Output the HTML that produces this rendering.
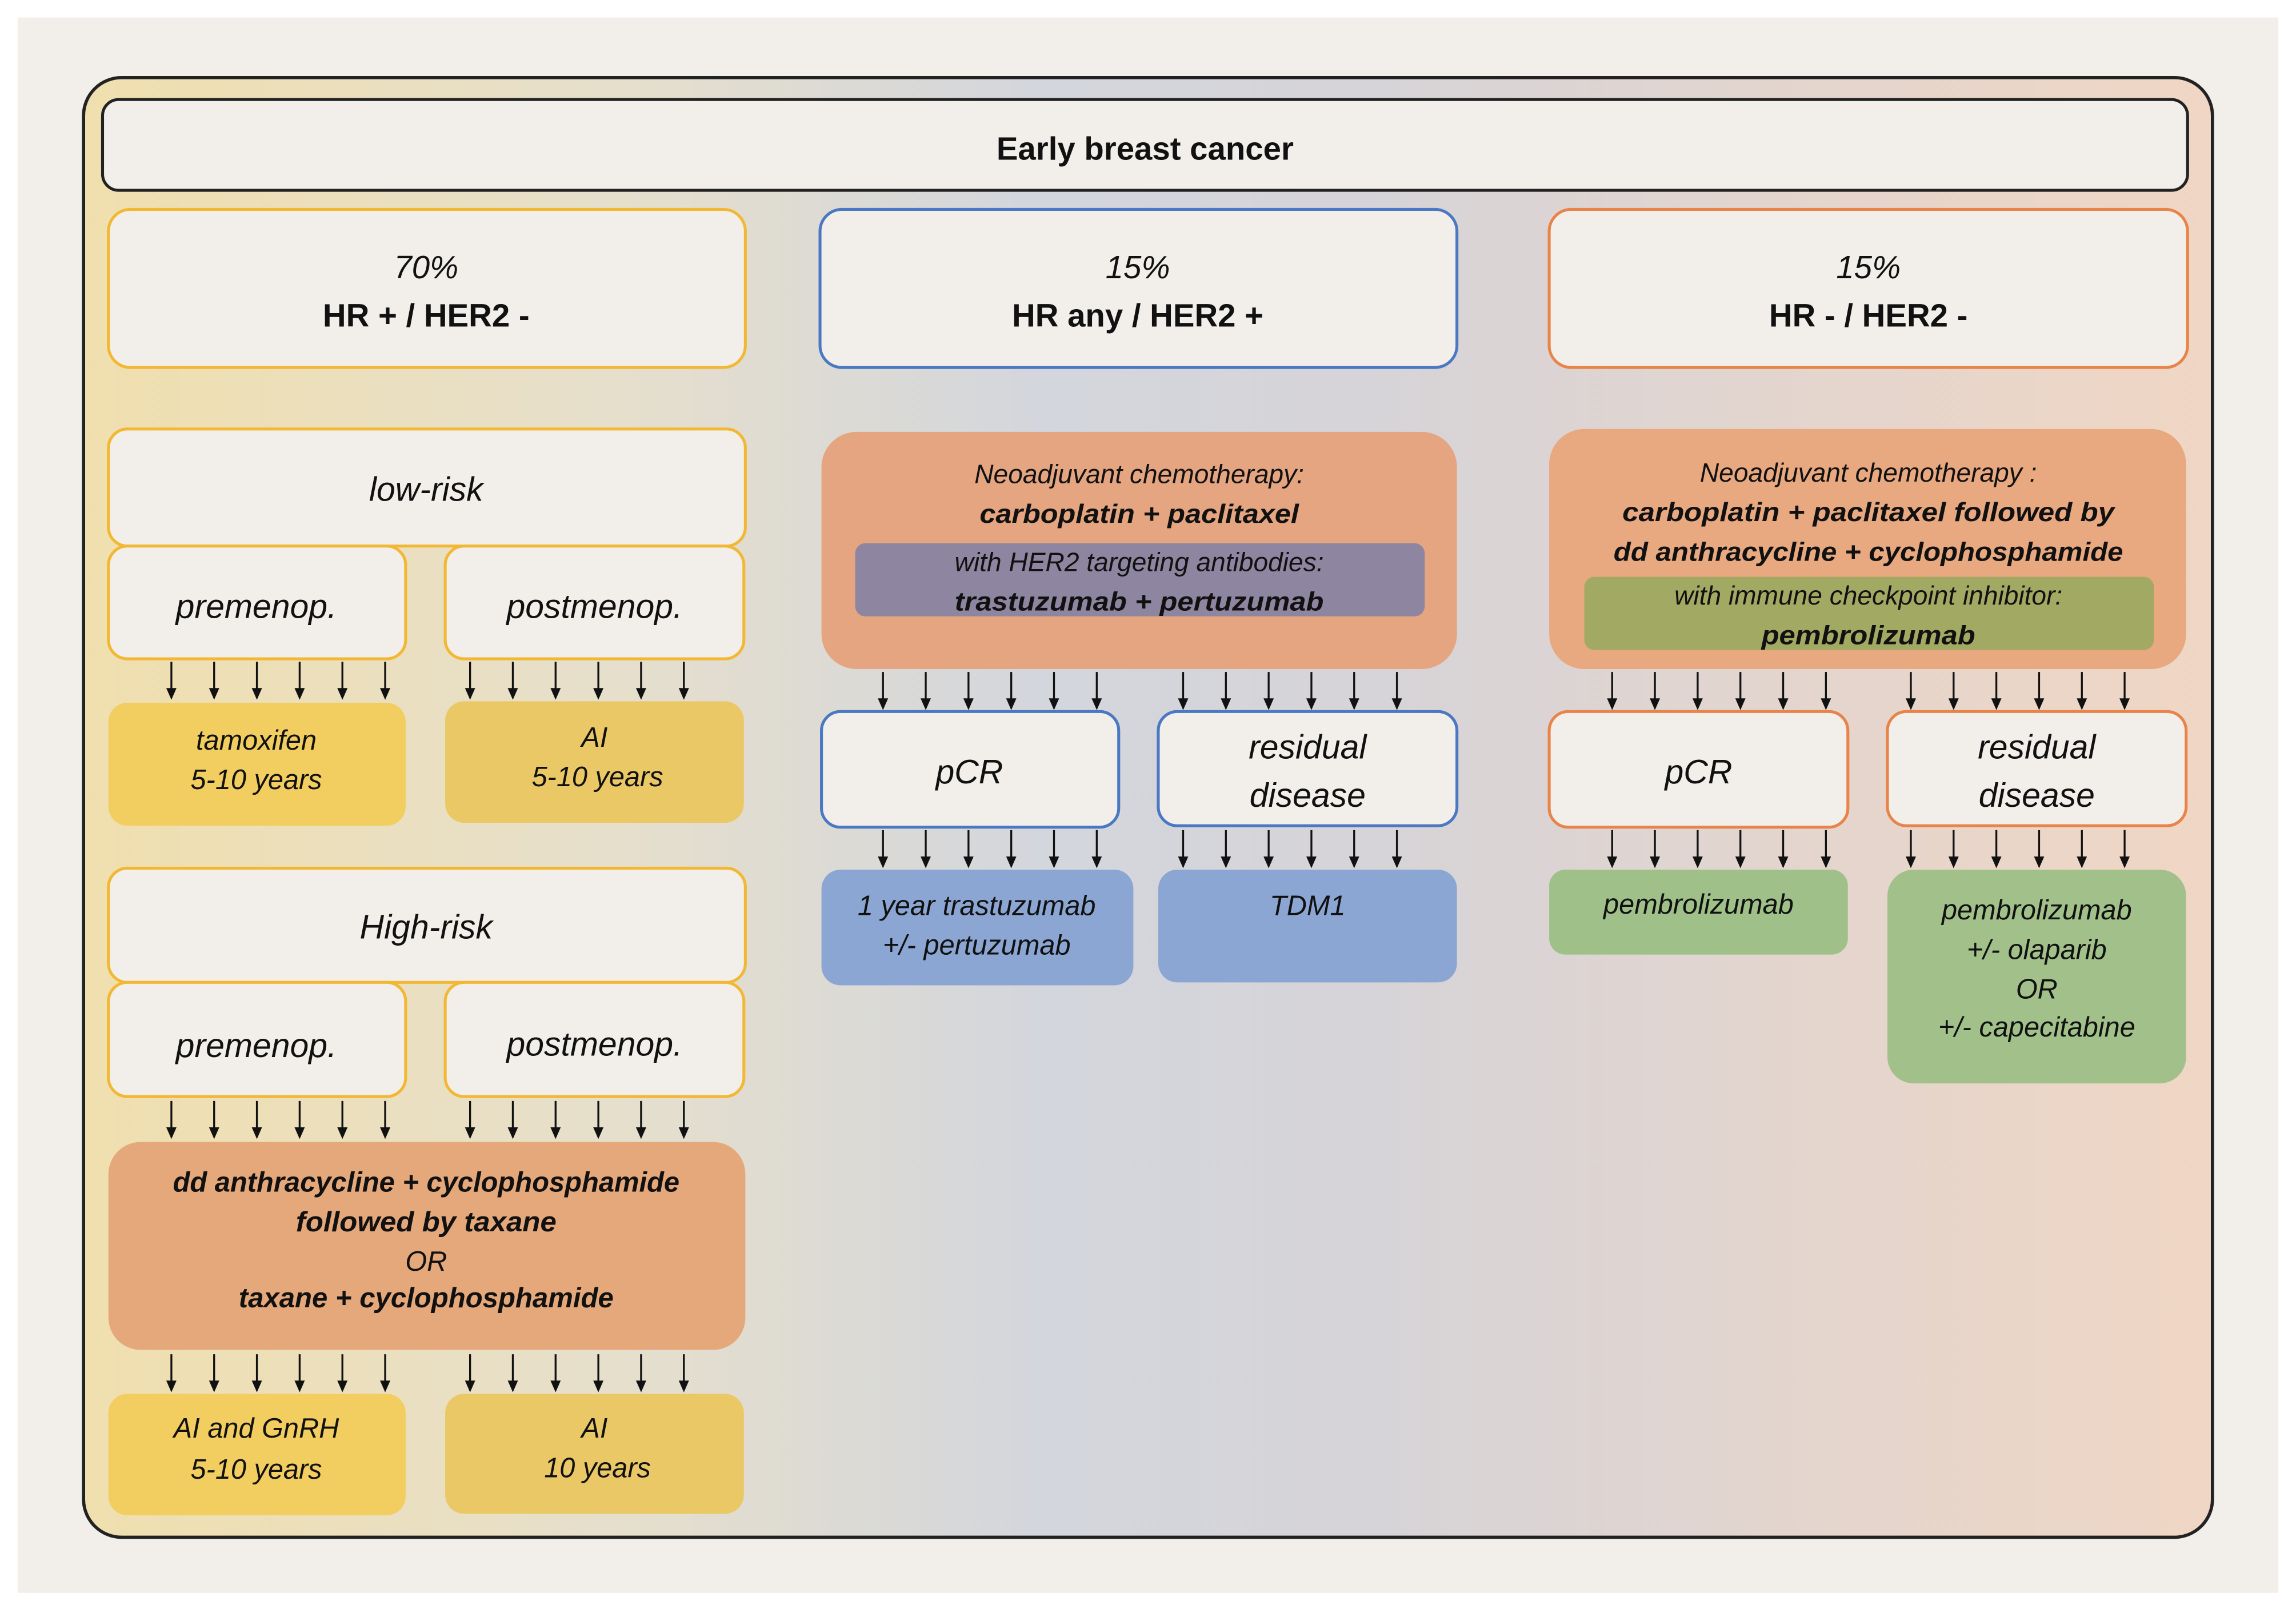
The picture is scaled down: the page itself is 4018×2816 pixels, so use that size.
<!DOCTYPE html>
<html><head><meta charset="utf-8"><style>
html,body{margin:0;padding:0;background:#fff}
svg{display:block}
text{font-family:"Liberation Sans",sans-serif;fill:#111;text-anchor:middle}
.i{font-style:italic}
.b{font-weight:bold}
</style></head><body>
<svg width="4018" height="2816" viewBox="0 0 1568 1099" xmlns="http://www.w3.org/2000/svg">
<defs>
<linearGradient id="bg" x1="0" y1="0" x2="1" y2="0">
<stop offset="0" stop-color="#f0dfae"/>
<stop offset="0.25" stop-color="#e6dfcc"/>
<stop offset="0.45" stop-color="#d3d6dc"/>
<stop offset="0.6" stop-color="#d6d4d8"/>
<stop offset="1" stop-color="#f0d6c4"/>
</linearGradient>
<g id="ar">
<line x1="0" y1="0" x2="0" y2="20" stroke="#111" stroke-width="1.3"/>
<path d="M-3.5,18 L0,26 L3.5,18 Z" fill="#111"/>
</g>
<g id="a6">
<use href="#ar" x="0"/>
<use href="#ar" x="29.2"/>
<use href="#ar" x="58.4"/>
<use href="#ar" x="87.6"/>
<use href="#ar" x="116.8"/>
<use href="#ar" x="146"/>
</g>
</defs>
<rect x="12" y="12" width="1544" height="1076" fill="#f2efea"/>
<rect x="57" y="53" width="1454" height="997" rx="26" fill="url(#bg)" stroke="#222" stroke-width="2.2"/>
<rect x="70" y="68" width="1424" height="62" rx="11" fill="#f2efea" stroke="#222" stroke-width="2"/>
<text x="782" y="109" class="b" font-size="22">Early breast cancer</text>

<rect x="74" y="143" width="435" height="108" rx="15" fill="#f2efea" stroke="#f2b834" stroke-width="2"/>
<text x="291" y="190" class="i" font-size="22">70%</text>
<text x="291" y="223" class="b" font-size="22">HR + / HER2 -</text>
<rect x="560" y="143" width="435" height="108" rx="15" fill="#f2efea" stroke="#4a78c2" stroke-width="2"/>
<text x="777" y="190" class="i" font-size="22">15%</text>
<text x="777" y="223" class="b" font-size="22">HR any / HER2 +</text>
<rect x="1058" y="143" width="436" height="108" rx="15" fill="#f2efea" stroke="#e8844a" stroke-width="2"/>
<text x="1276" y="190" class="i" font-size="22">15%</text>
<text x="1276" y="223" class="b" font-size="22">HR - / HER2 -</text>

<rect x="74" y="293" width="435" height="80" rx="13" fill="#f2efea" stroke="#f2b834" stroke-width="2"/>
<text x="291" y="342" class="i" font-size="23">low-risk</text>
<rect x="74" y="373" width="203" height="77" rx="13" fill="#f2efea" stroke="#f2b834" stroke-width="2"/>
<text x="175" y="422" class="i" font-size="23">premenop.</text>
<rect x="304" y="373" width="204" height="77" rx="13" fill="#f2efea" stroke="#f2b834" stroke-width="2"/>
<text x="406" y="422" class="i" font-size="23">postmenop.</text>
<use href="#a6" x="117" y="452"/>
<use href="#a6" x="321" y="452"/>
<rect x="74" y="480" width="203" height="84" rx="13" fill="#f2cd60"/>
<text x="175" y="512" class="i" font-size="19">tamoxifen</text>
<text x="175" y="539" class="i" font-size="19">5-10 years</text>
<rect x="304" y="479" width="204" height="83" rx="13" fill="#ebc866"/>
<text x="406" y="510" class="i" font-size="19">AI</text>
<text x="408" y="537" class="i" font-size="19">5-10 years</text>

<rect x="74" y="593" width="435" height="78" rx="13" fill="#f2efea" stroke="#f2b834" stroke-width="2"/>
<text x="291" y="641" class="i" font-size="23">High-risk</text>
<rect x="74" y="671" width="203" height="78" rx="13" fill="#f2efea" stroke="#f2b834" stroke-width="2"/>
<text x="175" y="722" class="i" font-size="23">premenop.</text>
<rect x="304" y="671" width="204" height="78" rx="13" fill="#f2efea" stroke="#f2b834" stroke-width="2"/>
<text x="406" y="721" class="i" font-size="23">postmenop.</text>
<use href="#a6" x="117" y="752"/>
<use href="#a6" x="321" y="752"/>
<rect x="74" y="780" width="435" height="142" rx="22" fill="#e5a87a"/>
<text x="291" y="814" class="i b" font-size="19" textLength="346" lengthAdjust="spacingAndGlyphs">dd anthracycline + cyclophosphamide</text>
<text x="291" y="841" class="i b" font-size="19" textLength="178" lengthAdjust="spacingAndGlyphs">followed by taxane</text>
<text x="291" y="868" class="i" font-size="19">OR</text>
<text x="291" y="893" class="i b" font-size="19" textLength="256" lengthAdjust="spacingAndGlyphs">taxane + cyclophosphamide</text>
<use href="#a6" x="117" y="925"/>
<use href="#a6" x="321" y="925"/>
<rect x="74" y="952" width="203" height="83" rx="13" fill="#f2cd60"/>
<text x="175" y="982" class="i" font-size="19">AI and GnRH</text>
<text x="175" y="1010" class="i" font-size="19">5-10 years</text>
<rect x="304" y="952" width="204" height="82" rx="13" fill="#ebc866"/>
<text x="406" y="982" class="i" font-size="19">AI</text>
<text x="408" y="1009" class="i" font-size="19">10 years</text>

<rect x="561" y="295" width="434" height="162" rx="24" fill="#e4a580"/>
<text x="778" y="330" class="i" font-size="18">Neoadjuvant chemotherapy:</text>
<text x="778" y="357" class="i b" font-size="18" textLength="218" lengthAdjust="spacingAndGlyphs">carboplatin + paclitaxel</text>
<rect x="584" y="371" width="389" height="50" rx="7" fill="#8e86a0"/>
<text x="778" y="390" class="i" font-size="18">with HER2 targeting antibodies:</text>
<text x="778" y="417" class="i b" font-size="18" textLength="252" lengthAdjust="spacingAndGlyphs">trastuzumab + pertuzumab</text>
<use href="#a6" x="603" y="459"/>
<use href="#a6" x="808" y="459"/>
<rect x="561" y="486" width="203" height="79" rx="13" fill="#f2efea" stroke="#4a78c2" stroke-width="2"/>
<text x="662" y="535" class="i" font-size="23">pCR</text>
<rect x="791" y="486" width="204" height="78" rx="13" fill="#f2efea" stroke="#4a78c2" stroke-width="2"/>
<text x="893" y="518" class="i" font-size="23">residual</text>
<text x="893" y="551" class="i" font-size="23">disease</text>
<use href="#a6" x="603" y="567"/>
<use href="#a6" x="808" y="567"/>
<rect x="561" y="594" width="213" height="79" rx="13" fill="#8ba6d3"/>
<text x="667" y="625" class="i" font-size="19">1 year trastuzumab</text>
<text x="667" y="652" class="i" font-size="19">+/- pertuzumab</text>
<rect x="791" y="594" width="204" height="77" rx="13" fill="#8ba6d3"/>
<text x="893" y="625" class="i" font-size="19">TDM1</text>

<rect x="1058" y="293" width="435" height="164" rx="24" fill="#e8a880"/>
<text x="1276" y="329" class="i" font-size="18">Neoadjuvant chemotherapy :</text>
<text x="1276" y="356" class="i b" font-size="18" textLength="336" lengthAdjust="spacingAndGlyphs">carboplatin + paclitaxel followed by</text>
<text x="1276" y="383" class="i b" font-size="18" textLength="348" lengthAdjust="spacingAndGlyphs">dd anthracycline + cyclophosphamide</text>
<rect x="1082" y="394" width="389" height="50" rx="7" fill="#a2a962"/>
<text x="1276" y="413" class="i" font-size="18">with immune checkpoint inhibitor:</text>
<text x="1276" y="440" class="i b" font-size="18" textLength="146" lengthAdjust="spacingAndGlyphs">pembrolizumab</text>
<use href="#a6" x="1101" y="459"/>
<use href="#a6" x="1305" y="459"/>
<rect x="1058" y="486" width="204" height="79" rx="13" fill="#f2efea" stroke="#e8844a" stroke-width="2"/>
<text x="1160" y="535" class="i" font-size="23">pCR</text>
<rect x="1289" y="486" width="204" height="78" rx="13" fill="#f2efea" stroke="#e8844a" stroke-width="2"/>
<text x="1391" y="518" class="i" font-size="23">residual</text>
<text x="1391" y="551" class="i" font-size="23">disease</text>
<use href="#a6" x="1101" y="567"/>
<use href="#a6" x="1305" y="567"/>
<rect x="1058" y="594" width="204" height="58" rx="11" fill="#9fc088"/>
<text x="1160" y="624" class="i" font-size="19">pembrolizumab</text>
<rect x="1289" y="594" width="204" height="146" rx="18" fill="#a2c18a"/>
<text x="1391" y="628" class="i" font-size="19">pembrolizumab</text>
<text x="1391" y="655" class="i" font-size="19">+/- olaparib</text>
<text x="1391" y="682" class="i" font-size="19">OR</text>
<text x="1391" y="708" class="i" font-size="19">+/- capecitabine</text>
</svg>
</body></html>
